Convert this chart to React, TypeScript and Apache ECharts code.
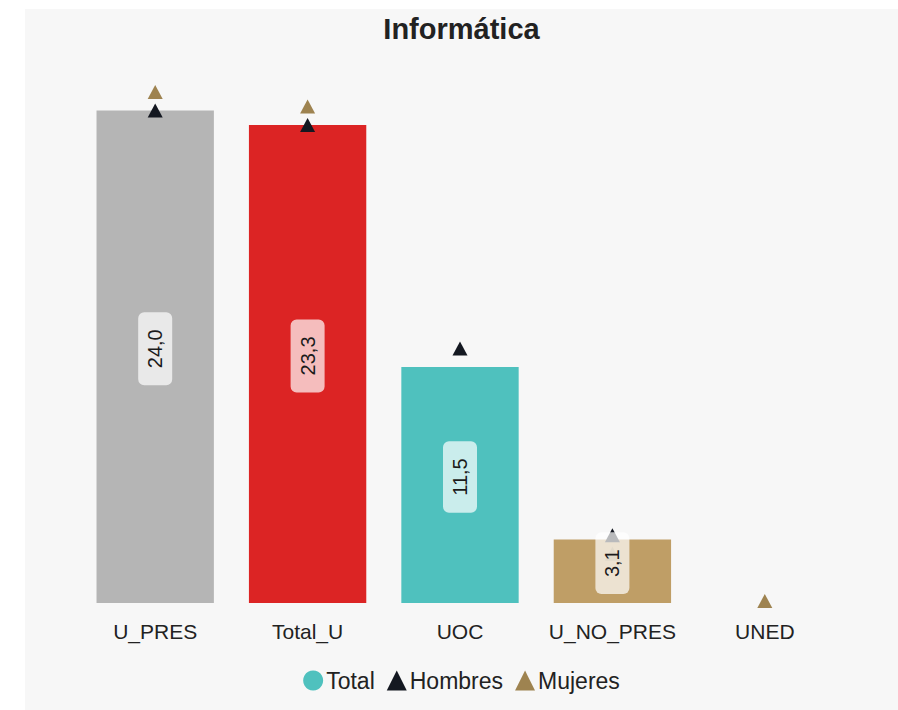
import React, { useEffect, useRef } from "react";
import * as echarts from "echarts";

const categories = ["U_PRES", "Total_U", "UOC", "U_NO_PRES", "UNED"];
const totalValues: (number | null)[] = [24.0, 23.3, 11.5, 3.1, null];
const hombresValues: (number | null)[] = [24.0, 23.3, 12.4, 3.3, null];
const mujeresValues: (number | null)[] = [24.9, 24.2, null, 2.4, 0.1];
const barColors = ["#b5b5b5", "#dc2424", "#4fc1be", "#bf9e66", "#9e8350"];

const FONT = "'Liberation Sans', Arial, sans-serif";

export default function App() {
  const ref = useRef<HTMLDivElement>(null);
  useEffect(() => {
    if (!ref.current) return;
    const chart = echarts.init(ref.current, null, { renderer: "svg" });
    const fmt = (p: any) => (p.value == null ? "" : Number(p.value).toFixed(1).replace(".", ","));
    chart.setOption({
      animation: false,
      backgroundColor: "#f7f7f7",
      textStyle: { fontFamily: FONT },
      title: {
        text: "Informática",
        left: "center",
        top: 0,
        textStyle: { fontSize: 29, fontWeight: "bold", color: "#222", fontFamily: FONT },
      },
      legend: {
        bottom: 13,
        left: "center",
        itemWidth: 20,
        itemHeight: 20,
        itemGap: 12,
        textStyle: { fontSize: 23, color: "#222", fontFamily: FONT, padding: [0, 0, 0, -2] },
        data: [
          { name: "Total", icon: "circle", itemStyle: { color: "#4fc1be" } },
          { name: "Hombres", icon: "triangle" },
          { name: "Mujeres", icon: "triangle" },
        ],
      },
      grid: { left: 54, right: 57, top: 81, bottom: 107 },
      xAxis: {
        type: "category",
        data: categories,
        axisLine: { show: false },
        axisTick: { show: false },
        axisLabel: { interval: 0, fontSize: 21, color: "#222", margin: 18, fontFamily: FONT },
      },
      yAxis: {
        type: "value",
        min: 0,
        max: 25,
        show: false,
        splitLine: { show: false },
      },
      series: [
        {
          name: "Total",
          type: "bar",
          barCategoryGap: "23%",
          barGap: "-100%",
          z: 1,
          itemStyle: { color: "#4fc1be" },
          data: totalValues.map((v, i) => ({ value: v, itemStyle: { color: barColors[i] } })),
        },
        {
          name: "TotalLabels",
          type: "bar",
          barCategoryGap: "23%",
          barGap: "-100%",
          z: 5,
          silent: true,
          itemStyle: { color: "rgba(0,0,0,0)" },
          data: totalValues,
          label: {
            show: true,
            position: "inside",
            rotate: 90,
            offset: [8, 0],
            fontSize: 20,
            color: "#1a1a1a",
            fontFamily: FONT,
            backgroundColor: "rgba(255,255,255,0.7)",
            borderRadius: 6,
            padding: [7, 17],
            formatter: fmt,
          },
        },
        {
          name: "Hombres",
          type: "scatter",
          symbol: "triangle",
          symbolSize: [15, 14],
          z: 3,
          itemStyle: { color: "#141821", opacity: 1 },
          data: hombresValues,
        },
        {
          name: "Mujeres",
          type: "scatter",
          symbol: "triangle",
          symbolSize: [15, 14],
          z: 3,
          itemStyle: { color: "#9e8350", opacity: 1 },
          data: mujeresValues,
        },
      ],
    });
    return () => chart.dispose();
  }, []);
  return (
    <div
      ref={ref}
      style={{ position: "fixed", left: 25, top: 9, width: 873, height: 701 }}
    />
  );
}
